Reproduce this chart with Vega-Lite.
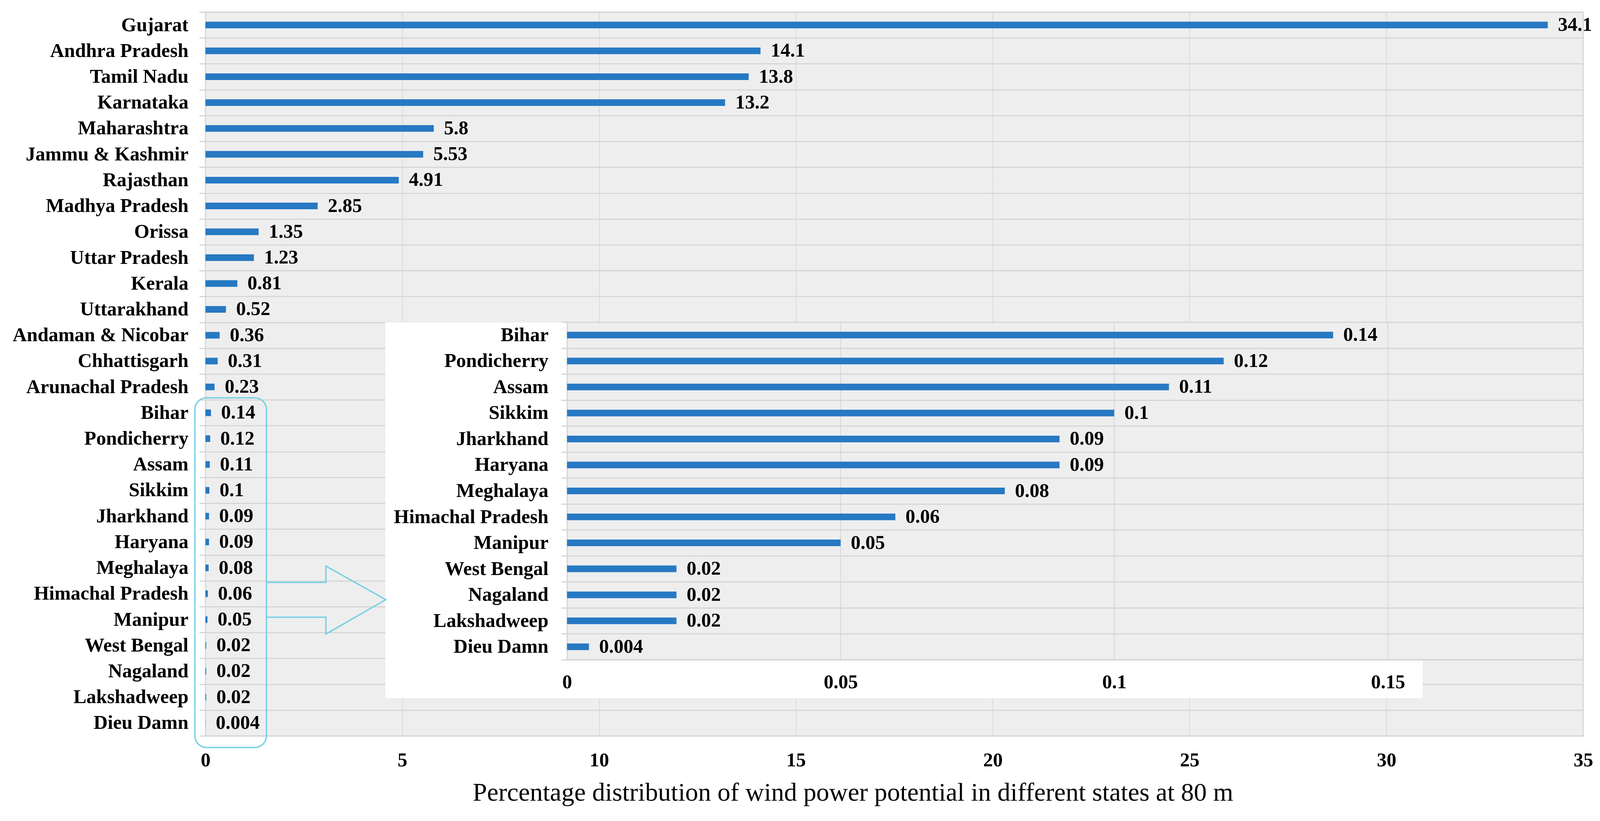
{
  "$schema": "https://vega.github.io/schema/vega-lite/v6.json",
  "width": 3527,
  "height": 1854,
  "autosize": {"type": "none"},
  "padding": {"left": 526, "top": 31, "right": 313, "bottom": 218},
  "background": "white",
  "config": {
    "font": "Liberation Serif",
    "view": {"fill": "#eeeeee", "stroke": "#d6d6d6", "strokeWidth": 3},
    "axis": {"labelFont": "Liberation Serif", "titleFont": "Liberation Serif", "labelColor": "black", "titleColor": "black"}
  },
  "datasets": {
    "main": [
      {"state": "Gujarat", "value": 34.1},
      {"state": "Andhra Pradesh", "value": 14.1},
      {"state": "Tamil Nadu", "value": 13.8},
      {"state": "Karnataka", "value": 13.2},
      {"state": "Maharashtra", "value": 5.8},
      {"state": "Jammu & Kashmir", "value": 5.53},
      {"state": "Rajasthan", "value": 4.91},
      {"state": "Madhya Pradesh", "value": 2.85},
      {"state": "Orissa", "value": 1.35},
      {"state": "Uttar Pradesh", "value": 1.23},
      {"state": "Kerala", "value": 0.81},
      {"state": "Uttarakhand", "value": 0.52},
      {"state": "Andaman & Nicobar", "value": 0.36},
      {"state": "Chhattisgarh", "value": 0.31},
      {"state": "Arunachal Pradesh", "value": 0.23},
      {"state": "Bihar", "value": 0.14},
      {"state": "Pondicherry", "value": 0.12},
      {"state": "Assam", "value": 0.11},
      {"state": "Sikkim", "value": 0.1},
      {"state": "Jharkhand", "value": 0.09},
      {"state": "Haryana", "value": 0.09},
      {"state": "Meghalaya", "value": 0.08},
      {"state": "Himachal Pradesh", "value": 0.06},
      {"state": "Manipur", "value": 0.05},
      {"state": "West Bengal", "value": 0.02},
      {"state": "Nagaland", "value": 0.02},
      {"state": "Lakshadweep", "value": 0.02},
      {"state": "Dieu Damn", "value": 0.004}
    ],
    "inset": [
      {"state": "Bihar", "value": 0.14},
      {"state": "Pondicherry", "value": 0.12},
      {"state": "Assam", "value": 0.11},
      {"state": "Sikkim", "value": 0.1},
      {"state": "Jharkhand", "value": 0.09},
      {"state": "Haryana", "value": 0.09},
      {"state": "Meghalaya", "value": 0.08},
      {"state": "Himachal Pradesh", "value": 0.06},
      {"state": "Manipur", "value": 0.05},
      {"state": "West Bengal", "value": 0.02},
      {"state": "Nagaland", "value": 0.02},
      {"state": "Lakshadweep", "value": 0.02},
      {"state": "Dieu Damn", "value": 0.004}
    ],
    "arrow": [
      {"i": 0, "ax": 1.549, "ay": 22.06},
      {"i": 1, "ax": 3.06, "ay": 22.06},
      {"i": 2, "ax": 3.06, "ay": 21.43},
      {"i": 3, "ax": 4.58, "ay": 22.73},
      {"i": 4, "ax": 3.06, "ay": 24.06},
      {"i": 5, "ax": 3.06, "ay": 23.41},
      {"i": 6, "ax": 1.549, "ay": 23.41}
    ]
  },
  "layer": [
    {
      "data": {"name": "main"},
      "encoding": {
        "y": {
          "field": "state", "type": "nominal", "sort": null,
          "scale": {"paddingInner": 0, "paddingOuter": 0},
          "axis": {
            "orient": "left", "title": null, "domain": false, "tickBand": "extent",
            "ticks": true, "tickSize": 16, "tickColor": "#d6d6d6", "tickWidth": 3,
            "grid": true, "gridColor": "#d6d6d6", "gridWidth": 3,
            "labelPadding": 28, "labelFontSize": 50, "labelFontWeight": "bold", "labelLimit": 0
          }
        },
        "x": {
          "field": "value", "type": "quantitative",
          "scale": {"domain": [0, 35], "nice": false},
          "axis": {
            "orient": "bottom", "values": [0, 5, 10, 15, 20, 25, 30, 35],
            "grid": true, "gridColor": "#dadada", "gridWidth": 2,
            "domain": false, "ticks": false, "tickSize": 0, "labelFlush": false,
            "labelPadding": 62, "labelBaseline": "middle", "labelFontSize": 50, "labelFontWeight": "bold",
            "title": "Percentage distribution of wind power potential in different states at 80 m",
            "titleFontSize": 66, "titleFontWeight": "normal", "titleX": 1657, "titleY": 145,
            "titleBaseline": "middle", "titleAlign": "center"
          }
        }
      },
      "layer": [
        {"mark": {"type": "bar", "height": 17, "color": "#2679c2"}},
        {
          "mark": {"type": "text", "align": "left", "baseline": "middle", "dx": 26, "font": "Liberation Serif", "fontSize": 50, "fontWeight": "bold", "color": "black"},
          "encoding": {"text": {"field": "value", "type": "quantitative", "format": "~g"}}
        }
      ]
    },
    {
      "data": {"values": [{}]},
      "layer": [
        {
          "mark": {"type": "rect", "fill": "white", "stroke": null},
          "encoding": {
            "x": {"datum": 4.57, "type": "quantitative", "scale": {"domain": [0, 35], "nice": false}, "axis": null},
            "x2": {"datum": 30.92},
            "y": {"datum": 12, "type": "quantitative", "scale": {"domain": [0, 28], "nice": false, "reverse": true}, "axis": null},
            "y2": {"datum": 26.54}
          }
        },
        {
          "mark": {"type": "rect", "fill": "#eeeeee", "stroke": "#d6d6d6", "strokeWidth": 3},
          "encoding": {
            "x": {"datum": 9.19, "type": "quantitative", "scale": {"domain": [0, 35], "nice": false}, "axis": null},
            "x2": {"datum": 35},
            "y": {"datum": 12, "type": "quantitative", "scale": {"domain": [0, 28], "nice": false, "reverse": true}, "axis": null},
            "y2": {"datum": 25.05}
          }
        },
        {
          "mark": {"type": "rect", "filled": false, "stroke": "#78d0e6", "strokeWidth": 3.5, "cornerRadius": 30},
          "encoding": {
            "x": {"datum": -0.27, "type": "quantitative", "scale": {"domain": [0, 35], "nice": false}, "axis": null},
            "x2": {"datum": 1.549},
            "y": {"datum": 14.92, "type": "quantitative", "scale": {"domain": [0, 28], "nice": false, "reverse": true}, "axis": null},
            "y2": {"datum": 28.45}
          }
        },
        {
          "data": {"name": "arrow"},
          "mark": {"type": "line", "color": "#78d0e6", "strokeWidth": 3.5, "strokeJoin": "miter"},
          "encoding": {
            "x": {"field": "ax", "type": "quantitative", "scale": {"domain": [0, 35], "nice": false}, "axis": null},
            "y": {"field": "ay", "type": "quantitative", "scale": {"domain": [0, 28], "nice": false, "reverse": true}, "axis": null},
            "order": {"field": "i", "type": "quantitative"}
          }
        }
      ]
    },
    {
      "data": {"name": "inset"},
      "layer": [
        {
          "data": {"values": [{"v": 0.05}, {"v": 0.1}, {"v": 0.15}]},
          "mark": {"type": "rule", "color": "#dadada", "strokeWidth": 2.5},
          "encoding": {
            "x": {"field": "v", "type": "quantitative", "scale": {"domain": [0, 0.1857], "nice": false, "range": [925.6, 3527]}},
            "y": {"datum": "Bihar", "type": "nominal", "bandPosition": 0, "scale": {"domain": ["Bihar", "Pondicherry", "Assam", "Sikkim", "Jharkhand", "Haryana", "Meghalaya", "Himachal Pradesh", "Manipur", "West Bengal", "Nagaland", "Lakshadweep", "Dieu Damn"], "paddingInner": 0, "paddingOuter": 0, "range": [794, 1659]}},
            "y2": {"datum": "Dieu Damn", "bandPosition": 1}
          }
        },
        {
          "encoding": {
            "y": {
              "field": "state", "type": "nominal",
              "scale": {"domain": ["Bihar", "Pondicherry", "Assam", "Sikkim", "Jharkhand", "Haryana", "Meghalaya", "Himachal Pradesh", "Manipur", "West Bengal", "Nagaland", "Lakshadweep", "Dieu Damn"], "paddingInner": 0, "paddingOuter": 0, "range": [794, 1659]},
              "axis": {
                "orient": "left", "offset": -925.6, "zindex": 1, "title": null, "domain": false, "tickBand": "extent",
                "ticks": true, "tickSize": 15, "tickColor": "#d6d6d6", "tickWidth": 3,
                "grid": true, "gridColor": "#d6d6d6", "gridWidth": 3,
                "labelPadding": 33, "labelFontSize": 50, "labelFontWeight": "bold", "labelLimit": 0
              }
            },
            "x": {
              "field": "value", "type": "quantitative",
              "scale": {"domain": [0, 0.1857], "nice": false, "range": [925.6, 3527]},
              "axis": {
                "orient": "bottom", "offset": -195, "zindex": 1, "values": [0, 0.05, 0.1, 0.15], "format": "~g",
                "grid": false, "domain": false, "ticks": false, "tickSize": 0, "labelFlush": false,
                "labelPadding": 57, "labelBaseline": "middle", "labelFontSize": 50, "labelFontWeight": "bold", "title": null
              }
            }
          },
          "layer": [
            {"mark": {"type": "bar", "height": 17, "color": "#2679c2"}},
            {
              "mark": {"type": "text", "align": "left", "baseline": "middle", "dx": 26, "font": "Liberation Serif", "fontSize": 50, "fontWeight": "bold", "color": "black"},
              "encoding": {"text": {"field": "value", "type": "quantitative", "format": "~g"}}
            }
          ]
        }
      ]
    }
  ],
  "resolve": {
    "scale": {"x": "independent", "y": "independent"},
    "axis": {"x": "independent", "y": "independent"}
  }
}
